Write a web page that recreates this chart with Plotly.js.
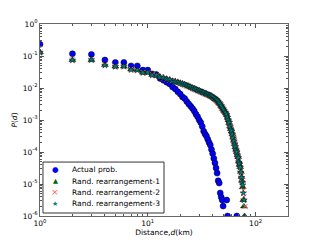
<!DOCTYPE html>
<html>
<head>
<meta charset="utf-8">
<script src="https://cdn.plot.ly/plotly-3.0.1.min.js"></script>
<style>html,body{margin:0;padding:0;background:#fff;}#chart{width:320px;height:240px;}</style>
</head>
<body>
<div id="chart"></div>
<script>
// Distances (km) and log10 of probabilities
const actualD = [1,2,3,4,5,6,7,8,9,10,11,12,13,14,15,16,17,18,19,20,21,22,23,24,25,26,27,28,29,30,31,32,33,34,35,36,37,38,39,40,41,42,43,44,45,46,47,48,49,50,54,55,67];
const actualLogP = [-0.635,-0.93,-0.95,-1.125,-1.2,-1.2,-1.31,-1.31,-1.44,-1.44,-1.56,-1.58,-1.70,-1.76,-1.82,-1.875,-1.97,-2.03,-2.12,-2.19,-2.28,-2.33,-2.42,-2.50,-2.57,-2.64,-2.72,-2.82,-2.90,-3.0,-3.08,-3.2,-3.35,-3.44,-3.5,-3.6,-3.7,-3.78,-3.92,-4.05,-4.2,-4.34,-4.5,-4.66,-4.9,-4.97,-5.28,-5.41,-5.5,-5.69,-5.5,-6,-6];

const rand1D = [1,2,3,4,5,6,7,8,9,10,11,12,13,14,15,16,17,18,19,20,21,22,23,24,25,26,27,28,29,30,31,32,33,34,35,36,37,38,39,40,41,42,43,44,45,46,47,48,49,50,51,52,53,54,55,56,57,58,59,60,61,62,63,64,65,66,67,68,69,70,71,72,73,74,75,76,77,78,79];
const rand1LogP = [-0.885,-1.125,-1.125,-1.28,-1.33,-1.33,-1.42,-1.44,-1.52,-1.52,-1.59,-1.6,-1.66,-1.69,-1.72,-1.75,-1.78,-1.8,-1.82,-1.84,-1.87,-1.9,-1.92,-1.95,-1.98,-2.0,-2.02,-2.05,-2.07,-2.09,-2.11,-2.13,-2.15,-2.17,-2.19,-2.2,-2.22,-2.24,-2.26,-2.29,-2.31,-2.34,-2.36,-2.39,-2.43,-2.47,-2.51,-2.56,-2.61,-2.66,-2.71,-2.74,-2.79,-2.84,-2.93,-3.0,-3.09,-3.2,-3.28,-3.36,-3.44,-3.55,-3.65,-3.75,-3.85,-3.93,-4.0,-4.1,-4.16,-4.3,-4.4,-4.47,-4.62,-4.78,-4.9,-5.1,-5.5,-5.7,-6];

const rand2D = [1,2,3,4,5,6,7,8,9,10,11,12,13,14,15,16,17,18,19,20,21,22,23,24,25,26,27,28,29,30,31,32,33,34,35,36,37,38,39,40,41,42,43,44,45,46,47,48,49,50,51,52,53,54,55,56,57,58,59,60,61,62,63,64,65,66,67,68,69,70,71,72,73,74,75,76,77,78,80];
const rand2LogP = [-0.88,-1.12,-1.13,-1.27,-1.32,-1.34,-1.41,-1.45,-1.51,-1.53,-1.58,-1.61,-1.65,-1.70,-1.73,-1.76,-1.77,-1.81,-1.83,-1.85,-1.88,-1.91,-1.93,-1.96,-1.99,-2.01,-2.03,-2.06,-2.08,-2.10,-2.12,-2.14,-2.16,-2.18,-2.2,-2.21,-2.23,-2.25,-2.27,-2.30,-2.32,-2.35,-2.37,-2.40,-2.44,-2.48,-2.52,-2.57,-2.62,-2.67,-2.72,-2.76,-2.80,-2.86,-2.95,-3.02,-3.1,-3.18,-3.27,-3.38,-3.46,-3.53,-3.63,-3.73,-3.83,-3.95,-4.02,-4.08,-4.2,-4.28,-4.42,-4.5,-4.6,-4.75,-4.85,-5.0,-5.2,-5.4,-5.7];

const rand3D = [1,2,3,4,5,6,7,8,9,10,11,12,13,14,15,16,17,18,19,20,21,22,23,24,25,26,27,28,29,30,31,32,33,34,35,36,37,38,39,40,41,42,43,44,45,46,47,48,49,50,51,52,53,54,55,56,57,58,59,60,61,62,63,64,65,66,67,68,69,70,71,72,73,74,75,76,77,78];
const rand3LogP = [-0.89,-1.13,-1.12,-1.29,-1.33,-1.32,-1.43,-1.44,-1.52,-1.51,-1.60,-1.60,-1.66,-1.68,-1.72,-1.74,-1.79,-1.80,-1.82,-1.85,-1.87,-1.89,-1.92,-1.94,-1.97,-2.0,-2.02,-2.04,-2.07,-2.08,-2.11,-2.13,-2.14,-2.17,-2.18,-2.2,-2.22,-2.24,-2.25,-2.28,-2.31,-2.33,-2.36,-2.38,-2.42,-2.46,-2.50,-2.55,-2.60,-2.65,-2.70,-2.75,-2.78,-2.83,-2.92,-3.0,-3.08,-3.2,-3.3,-3.35,-3.45,-3.56,-3.66,-3.76,-3.84,-3.94,-4.0,-4.12,-4.18,-4.32,-4.38,-4.48,-4.64,-4.8,-4.95,-5.03,-5.28,-5.5];

const seriesNames = ['Actual prob.','Rand. rearrangement-1','Rand. rearrangement-2','Rand. rearrangement-3'];
const legendGlyphs = ['●','▲','×','★'];
const seriesColors = ['#0000ff','#006400','#ff6060','#008080'];
const yTickVals = [1e0,1e-1,1e-2,1e-3,1e-4,1e-5,1e-6];
const yTickText = ['10<sup>0</sup>','10<sup>-1</sup>','10<sup>-2</sup>','10<sup>-3</sup>','10<sup>-4</sup>','10<sup>-5</sup>','10<sup>-6</sup>'];
const xTickVals = [1,10,100];
const xTickText = ['10<sup>0</sup>','10<sup>1</sup>','10<sup>2</sup>'];

const pw = a => a.map(v => Math.pow(10, v));
function minorTicks(lo, hi) {
  const out = [];
  for (let e = lo; e < hi; e++) for (let m = 2; m <= 9; m++) out.push(m * Math.pow(10, e));
  return out;
}

const traces = [
  {x: actualD, y: pw(actualLogP), name: seriesNames[0], mode: 'markers', type: 'scatter',
   marker: {symbol: 'circle', size: 6, color: seriesColors[0], line: {color: '#000', width: 0.5}}},
  {x: rand1D, y: pw(rand1LogP), name: seriesNames[1], mode: 'markers', type: 'scatter',
   marker: {symbol: 'triangle-up', size: 6, color: seriesColors[1], line: {color: '#000', width: 0.5}}},
  {x: rand2D, y: pw(rand2LogP), name: seriesNames[2], mode: 'markers', type: 'scatter',
   marker: {symbol: 'x-thin', size: 5, color: seriesColors[2], line: {color: seriesColors[2], width: 1}}},
  {x: rand3D, y: pw(rand3LogP), name: seriesNames[3], mode: 'markers', type: 'scatter',
   marker: {symbol: 'star', size: 5, color: seriesColors[3], line: {color: '#000', width: 0.4}}}
];

// Custom compact legend (matplotlib-like spacing)
const legRowY = [0.2396, 0.1797, 0.1224, 0.0651];
const glyphSizes = [7.5, 6.5, 9, 7];
const annotations = [];
seriesNames.forEach((n, i) => {
  annotations.push({xref: 'paper', yref: 'paper', x: 0.0605, y: legRowY[i], text: legendGlyphs[i],
    showarrow: false, xanchor: 'center', yanchor: 'middle',
    font: {family: 'DejaVu Sans, sans-serif', size: glyphSizes[i], color: seriesColors[i]}});
  annotations.push({xref: 'paper', yref: 'paper', x: 0.121, y: legRowY[i], text: n,
    showarrow: false, xanchor: 'left', yanchor: 'middle',
    font: {family: 'DejaVu Sans, sans-serif', size: 7.5, color: '#000'}});
});

const axisFont = {family: 'DejaVu Sans, sans-serif', size: 7.5, color: '#000'};
const layout = {
  width: 320, height: 240,
  margin: {l: 40, r: 32, t: 24, b: 24, pad: 0},
  paper_bgcolor: '#fff', plot_bgcolor: '#fff',
  font: axisFont,
  showlegend: false,
  annotations: annotations,
  shapes: [{type: 'rect', xref: 'paper', yref: 'paper', x0: 0.012, x1: 0.5, y0: 0.0156, y1: 0.281,
            line: {color: '#333', width: 1}, fillcolor: 'rgba(255,255,255,1)', layer: 'above'}],
  xaxis: {type: 'log', range: [0, Math.log10(200)], tickvals: xTickVals, ticktext: xTickText,
          ticks: 'inside', ticklen: 4, tickcolor: '#555', showline: true, linecolor: '#666', linewidth: 1,
          mirror: 'ticks', showgrid: false, zeroline: false, tickfont: axisFont,
          minor: {tickvals: minorTicks(0, 3).filter(v => v < 200), ticks: 'inside', ticklen: 2, tickcolor: '#555', showgrid: false},
          title: {text: 'Distance,<i>d</i>(km)', font: axisFont, standoff: 2}},
  yaxis: {type: 'log', range: [-6, 0], tickvals: yTickVals, ticktext: yTickText,
          ticks: 'inside', ticklen: 4, tickcolor: '#555', showline: true, linecolor: '#666', linewidth: 1,
          mirror: 'ticks', showgrid: false, zeroline: false, tickfont: axisFont,
          minor: {tickvals: minorTicks(-6, 0), ticks: 'inside', ticklen: 2, tickcolor: '#555', showgrid: false},
          title: {text: '<i>P</i>(<i>d</i>)', font: axisFont, standoff: 4}}
};

Plotly.newPlot('chart', traces, layout, {staticPlot: true, displayModeBar: false});
</script>
</body>
</html>
